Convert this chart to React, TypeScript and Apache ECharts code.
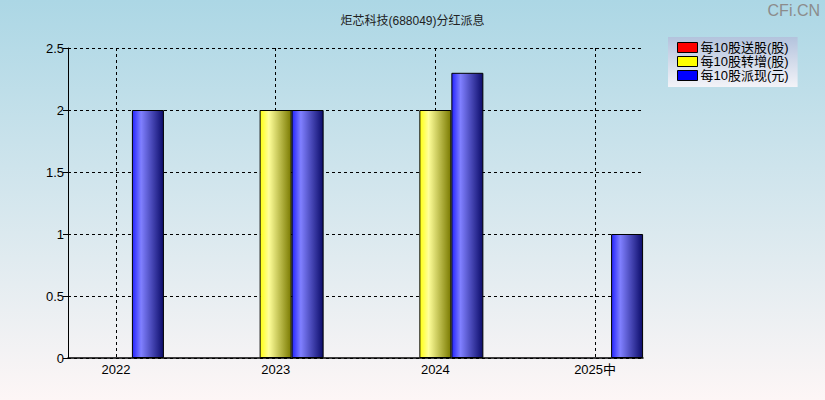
import { useEffect, useRef } from "react";
import * as echarts from "echarts";

const categories = ["2022", "2023", "2024", "2025中"];
const positions = [0, 1, 2, 3];
const songGu: (number | null)[] = [null, null, null, null];
const zhuanZeng: (number | null)[] = [null, 2, 2, null];
const paiXian: (number | null)[] = [2, 2, 2.3, 1];
const seriesNames = ["每10股送股(股)", "每10股转增(股)", "每10股派现(元)"];
const legendColors = ["#ff0000", "#ffff00", "#0000ff"];

const FONT = "'Liberation Sans', 'Noto Sans CJK SC', sans-serif";

const barFill = (left: string, light: string, right: string) =>
  new echarts.graphic.LinearGradient(0, 0, 1, 0, [
    { offset: 0, color: left },
    { offset: 0.28, color: light },
    { offset: 1, color: right }
  ]);

const toPoints = (values: (number | null)[]) =>
  positions.map((x, i) => [x, values[i] === null ? "-" : values[i]]);

const barSeries = (name: string, values: (number | null)[], fill: unknown) => ({
  name,
  type: "bar",
  data: toPoints(values),
  barWidth: 32,
  barGap: "0%",
  itemStyle: { color: fill, borderColor: "#000", borderWidth: 1 },
  z: 3
});

export default function App() {
  const hostRef = useRef<HTMLDivElement>(null);

  useEffect(() => {
    const host = hostRef.current;
    if (host === null) return;
    const chart = echarts.init(host, undefined, { renderer: "svg" });
    chart.setOption({
      animation: false,
      backgroundColor: new echarts.graphic.LinearGradient(0, 0, 0, 1, [
        { offset: 0, color: "#acd7e5" },
        { offset: 1, color: "#fdf6f6" }
      ]),
      title: {
        text: "炬芯科技(688049)分红派息",
        left: "center",
        top: 10,
        textStyle: { fontSize: 12, fontWeight: "normal", color: "#222", fontFamily: FONT }
      },
      graphic: [
        {
          type: "text",
          right: 5,
          top: 2,
          style: { text: "CFi.CN", fill: "#8c8c8c", font: `16px ${FONT}` }
        }
      ],
      legend: {
        orient: "vertical",
        left: 668,
        top: 37,
        padding: [4, 9, 5, 9],
        itemGap: 1,
        itemWidth: 20,
        itemHeight: 10,
        backgroundColor: new echarts.graphic.LinearGradient(0, 0, 0, 1, [
          { offset: 0, color: "#b3c3dd" },
          { offset: 1, color: "#f3f3f8" }
        ]),
        textStyle: { fontSize: 13, color: "#000", fontFamily: FONT, padding: [0, 0, 0, -2] },
        data: seriesNames.map((name, i) => ({
          name,
          icon: "rect",
          itemStyle: { color: legendColors[i], borderColor: "#000", borderWidth: 1 }
        }))
      },
      grid: { left: 68, right: 182, top: 48, bottom: 42 },
      xAxis: {
        type: "value",
        min: -0.3,
        max: 3.3,
        axisLine: { show: true, onZero: false, lineStyle: { color: "#000", width: 1.5 } },
        axisTick: { show: false, customValues: positions },
        axisLabel: {
          customValues: positions,
          margin: 5,
          color: "#000",
          fontSize: 13,
          fontFamily: FONT,
          formatter: (v: number) => categories[Math.round(v)] ?? ""
        },
        splitLine: { show: true, lineStyle: { color: "#000", type: [3, 3], width: 1 } }
      },
      yAxis: {
        type: "value",
        min: 0,
        max: 2.5,
        interval: 0.5,
        axisLine: { show: true, onZero: false, lineStyle: { color: "#000", width: 1 } },
        axisTick: { show: true, length: 5, lineStyle: { color: "#000" } },
        axisLabel: { color: "#000", fontSize: 13, fontFamily: FONT, margin: 4 },
        splitLine: { show: true, lineStyle: { color: "#000", type: [3, 3], width: 1 } }
      },
      series: [
        barSeries(seriesNames[0], songGu, barFill("#ff2020", "#ff8080", "#700000")),
        barSeries(seriesNames[1], zhuanZeng, barFill("#ffff10", "#ffff9a", "#7a7a00")),
        barSeries(seriesNames[2], paiXian, barFill("#2424ff", "#8080ff", "#0c0c6a"))
      ]
    });
    return () => chart.dispose();
  }, []);

  return (
    <div
      ref={hostRef}
      style={{ position: "fixed", left: 0, top: 0, width: 825, height: 400 }}
    />
  );
}
